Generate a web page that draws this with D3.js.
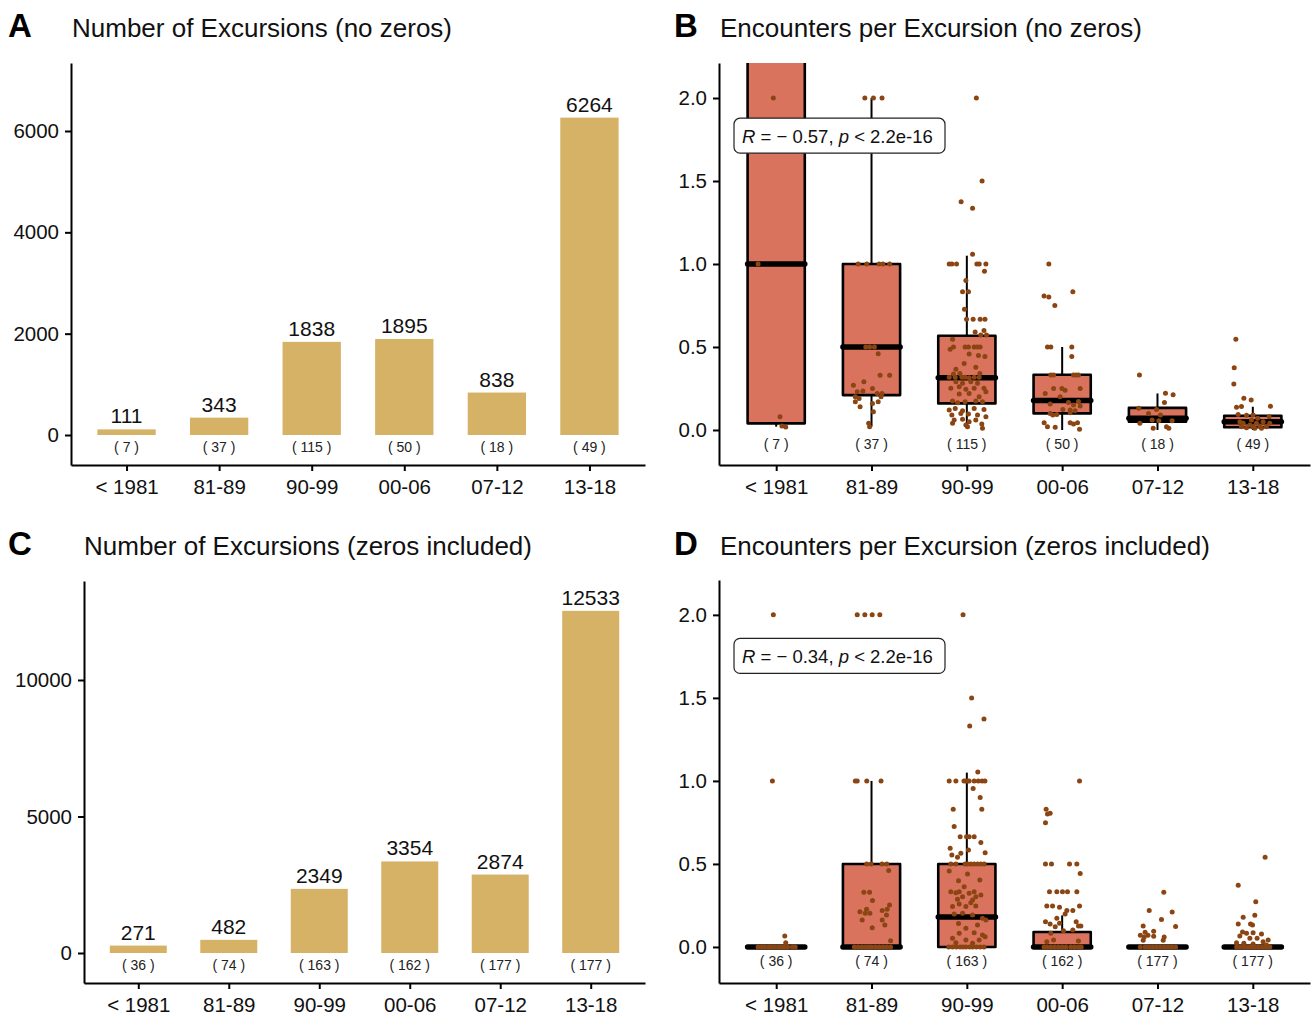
<!DOCTYPE html>
<html>
<head>
<meta charset="utf-8">
<script src="https://cdn.jsdelivr.net/npm/d3@7"></script>
<style>
body { margin: 0; background: #fff; }
text { font-family: "Liberation Sans", Arial, sans-serif; }
</style>
</head>
<body>
<svg id="chart" width="1314" height="1017"></svg>
<script>
var periods = ["< 1981", "81-89", "90-99", "00-06", "07-12", "13-18"];

// panels A and C: excursion totals and (n) per period
var excursionsNoZeros = [111, 343, 1838, 1895, 838, 6264];
var countsNoZeros = [7, 37, 115, 50, 18, 49];
var excursionsWithZeros = [271, 482, 2349, 3354, 2874, 12533];
var countsWithZeros = [36, 74, 163, 162, 177, 177];

var ticksA = [0, 2000, 4000, 6000];
var ticksC = [0, 5000, 10000];
var ticksRate = [0, 0.5, 1, 1.5, 2];

// boxes: [low whisker, q1, median, q3, high whisker]
var boxNoZeros = [
	[0.02, 0.04, 1.0, 2.6, 3.0],
	[0.02, 0.21, 0.5, 1.0, 2.0],
	[0.01, 0.16, 0.315, 0.568, 1.05],
	[0.0, 0.10, 0.177, 0.333, 0.5],
	[0.0, 0.05, 0.07, 0.133, 0.22],
	[0.0, 0.016, 0.05, 0.086, 0.14]
];
var boxWithZeros = [
	[0, 0, 0, 0, 0],
	[0, 0, 0, 0.5, 1.0],
	[0, 0, 0.18, 0.5, 1.05],
	[0, 0, 0, 0.09, 0.19],
	[0, 0, 0, 0, 0],
	[0, 0, 0, 0, 0]
];

// jittered points: [offset in category units, encounters per excursion]
var ptsB1 = [[-0.03, 2], [-0.19, 1], [0.04, 0.08], [0.06, 0.024], [0.1, 0.018]];
var ptsB2 = [[-0.07, 2], [0.02, 2], [0.11, 2], [-0.14, 1], [-0.05, 1], [0.08, 1],
	[0.12, 1], [0.19, 1], [-0.06, 0.5], [-0.02, 0.5], [0.03, 0.5], [0.07, 0.46],
	[0.09, 0.33], [0.19, 0.33], [-0.19, 0.27], [-0.08, 0.29], [-0.15, 0.23],
	[-0.09, 0.235], [0.01, 0.25], [0.06, 0.22], [0.11, 0.22], [-0.17, 0.2],
	[-0.17, 0.17], [-0.12, 0.14], [0.01, 0.16], [0.07, 0.17], [0.02, 0.11],
	[-0.03, 0.04], [-0.02, 0.02], [0.1, 0.2], [-0.13, 0.19]];
var ptsB3 = [[0.1, 2], [0.16, 1.5], [-0.06, 1.375], [0.06, 1.336], [0.06, 1.058],
	[-0.185, 1], [-0.157, 1], [-0.108, 1], [0.105, 1], [0.13, 1], [0.2, 1],
	[0.185, 0.956], [-0.01, 0.9], [-0.045, 0.833], [0.017, 0.833], [-0.025, 0.727],
	[-0.003, 0.667], [0.066, 0.667], [0.14, 0.667], [0.19, 0.667], [0.087, 0.59],
	[0.18, 0.6], [0.146, 0.572], [0.206, 0.572], [-0.15, 0.546], [-0.175, 0.486],
	[-0.14, 0.5], [-0.018, 0.5], [0.017, 0.5], [0.077, 0.5], [0.11, 0.5], [0.14, 0.5],
	[0.024, 0.458], [0.122, 0.448], [0.19, 0.442], [-0.028, 0.401], [-0.115, 0.366],
	[0.094, 0.378], [-0.14, 0.337], [-0.073, 0.341], [0.136, 0.341], [-0.185, 0.317],
	[-0.122, 0.317], [-0.052, 0.317], [-0.018, 0.317], [0.024, 0.315], [0.077, 0.317],
	[0.129, 0.317], [-0.115, 0.291], [-0.045, 0.281], [0.042, 0.291], [0.112, 0.281],
	[-0.168, 0.251], [-0.08, 0.261], [-0.01, 0.245], [0.077, 0.251], [0.18, 0.251],
	[-0.08, 0.217], [0.024, 0.22], [0.129, 0.2], [0.2, 0.23], [-0.15, 0.174],
	[-0.097, 0.164], [-0.018, 0.17], [0.094, 0.174], [0.164, 0.17], [-0.185, 0.12],
	[-0.122, 0.13], [-0.045, 0.116], [0.077, 0.13], [0.18, 0.124], [-0.157, 0.09],
	[-0.063, 0.1], [0.017, 0.096], [0.112, 0.09], [-0.133, 0.06], [-0.045, 0.064],
	[0.024, 0.05], [0.094, 0.06], [0.2, 0.08], [-0.15, 0.04], [-0.01, 0.03],
	[0.157, 0.036], [0.007, 0.02], [0.164, 0.01]];
var ptsB4 = [[-0.14, 1], [-0.19, 0.807], [-0.14, 0.801], [0.112, 0.833], [-0.077, 0.75],
	[-0.154, 0.5], [-0.119, 0.5], [0.101, 0.5], [0.101, 0.442], [-0.119, 0.331],
	[-0.09, 0.331], [0.119, 0.331], [0.147, 0.331], [0.171, 0.331], [-0.178, 0.22],
	[-0.09, 0.25], [-0.003, 0.25], [0.031, 0.24], [0.189, 0.25], [-0.021, 0.2],
	[-0.126, 0.157], [0.066, 0.165], [0.119, 0.151], [0.171, 0.171], [0.007, 0.124],
	[0.084, 0.12], [0.136, 0.116], [0.189, 0.145], [-0.126, 0.1], [-0.098, 0.09],
	[-0.056, 0.094], [0.084, 0.104], [-0.189, 0.044], [-0.154, 0.02], [-0.073, 0.016],
	[0.084, 0.044], [0.119, 0.036], [0.161, 0.044], [0.182, 0.004]];
var ptsB5 = [[-0.189, 0.331], [0.084, 0.221], [0.164, 0.213], [0.073, 0.165],
	[-0.196, 0.131], [-0.094, 0.1], [-0.01, 0.124], [0.031, 0.09], [-0.185, 0.04],
	[-0.056, 0.06], [0.014, 0.056], [0.094, 0.02], [0.119, 0.01], [-0.045, 0.01],
	[0.154, 0.056]];
var ptsB6 = [[-0.178, 0.546], [-0.195, 0.375], [-0.199, 0.277], [-0.094, 0.191],
	[-0.017, 0.181], [-0.171, 0.137], [-0.119, 0.141], [0.185, 0.143], [-0.154, 0.094],
	[-0.066, 0.088], [0.003, 0.09], [0.171, 0.08], [-0.136, 0.05], [-0.101, 0.04],
	[-0.031, 0.03], [0.003, 0.02], [0.038, 0.04], [0.073, 0.024], [0.108, 0.05],
	[0.143, 0.02], [0.178, 0.04], [-0.066, 0.014], [0.021, 0.01], [0.091, 0.01],
	[-0.119, 0.02], [-0.014, 0.06], [0.052, 0.07]];

var ptsD1 = [[-0.03, 2], [-0.04, 1], [0.09, 0.066], [0.1, 0.025]];
var ptsD2 = [[-0.15, 2], [-0.07, 2], [0.007, 2], [0.087, 2], [-0.17, 1], [-0.15, 1],
	[-0.05, 1], [0.1, 1], [-0.05, 0.5], [-0.004, 0.5], [0.11, 0.5], [0.16, 0.5],
	[0.18, 0.46], [-0.08, 0.33], [-0.02, 0.33], [0.01, 0.28], [-0.122, 0.212],
	[-0.052, 0.227], [-0.066, 0.203], [-0.017, 0.203], [-0.098, 0.163], [0.112, 0.219],
	[0.164, 0.227], [0.189, 0.253], [0.14, 0.132], [0.112, 0.163], [0.157, 0.193],
	[0.007, 0.115], [0.2, 0.038]];
var ptsD3 = [[-0.04, 2], [0.05, 1.5], [0.18, 1.373], [0.03, 1.331], [0.115, 1.054],
	[-0.185, 1], [-0.115, 1], [-0.03, 1], [-0.01, 1], [0.007, 1], [0.024, 1], [0.077, 1],
	[0.12, 1], [0.16, 1], [0.19, 1], [0.066, 0.955], [0.14, 0.9], [-0.143, 0.83],
	[0.157, 0.83], [-0.133, 0.725], [-0.07, 0.664], [-0.003, 0.664], [0.024, 0.664],
	[0.077, 0.664], [0.147, 0.629], [-0.175, 0.595], [-0.157, 0.554], [-0.098, 0.54],
	[-0.063, 0.564], [0.017, 0.584], [0.192, 0.568], [-0.168, 0.5], [-0.115, 0.5],
	[-0.017, 0.5], [0.007, 0.5], [0.042, 0.5], [0.077, 0.5], [0.112, 0.5], [0.147, 0.5],
	[0.182, 0.5], [-0.185, 0.458], [0.007, 0.44], [-0.087, 0.399], [0.136, 0.403],
	[-0.168, 0.333], [-0.115, 0.327], [-0.08, 0.333], [-0.028, 0.363], [0.024, 0.323],
	[0.077, 0.333], [0.094, 0.303], [0.147, 0.313], [-0.045, 0.303], [0.06, 0.283],
	[-0.098, 0.287], [-0.15, 0.243], [-0.01, 0.243], [0.094, 0.247], [0.042, 0.267],
	[-0.08, 0.259], [-0.133, 0.199], [-0.045, 0.203], [0.06, 0.193], [0.164, 0.173],
	[-0.087, 0.142], [0.112, 0.132], [0.2, 0.163], [-0.01, 0.112], [-0.08, 0.082],
	[0.077, 0.086], [0.164, 0.072], [-0.15, 0.052], [-0.01, 0.042], [0.129, 0.042],
	[0.192, 0.062], [-0.115, 0.026], [0.06, 0.022]];
var ptsD4 = [[0.182, 1], [-0.168, 0.829], [-0.154, 0.801], [-0.126, 0.805],
	[-0.175, 0.748], [-0.175, 0.5], [-0.112, 0.5], [0.077, 0.5], [0.154, 0.5],
	[0.189, 0.442], [-0.133, 0.333], [-0.056, 0.333], [0.003, 0.333], [0.056, 0.333],
	[0.154, 0.333], [-0.161, 0.247], [-0.101, 0.247], [-0.028, 0.239], [0.182, 0.247],
	[0.049, 0.219], [0.112, 0.219], [0.031, 0.199], [-0.175, 0.152], [-0.126, 0.139],
	[-0.073, 0.122], [-0.028, 0.143], [-0.056, 0.173], [0.147, 0.152], [0.171, 0.127],
	[0.196, 0.127], [0.112, 0.102], [0.014, 0.098], [-0.119, 0.082], [-0.09, 0.042],
	[-0.161, 0.032], [0.171, 0.036]];
var ptsD5 = [[0.066, 0.33], [-0.087, 0.22], [0.154, 0.21], [0.042, 0.165],
	[-0.15, 0.127], [0.19, 0.123], [-0.13, 0.088], [-0.04, 0.095], [-0.18, 0.07],
	[-0.14, 0.06], [-0.1, 0.07], [-0.04, 0.065], [-0.15, 0.04], [0.07, 0.06],
	[0.06, 0.04]];
var ptsD6 = [[0.129, 0.54], [-0.153, 0.371], [0.031, 0.273], [-0.101, 0.179],
	[0.021, 0.191], [-0.024, 0.139], [-0.003, 0.133], [-0.153, 0.139], [-0.136, 0.066],
	[-0.108, 0.09], [-0.066, 0.082], [0.003, 0.086], [0.091, 0.078], [0.161, 0.042],
	[-0.094, 0.022], [-0.031, 0.052], [0.045, 0.052], [0.108, 0.032], [-0.171, 0.026],
	[0.003, 0.018], [0.143, 0.012], [0.056, 0.002]];

// offsets of the points lying exactly on zero (panel D)
var zerosD = [
	[-0.19, -0.15, -0.12, -0.08, -0.05, -0.02, 0.02, 0.05, 0.08, 0.12, 0.17, 0.2],
	[-0.18, -0.14, -0.1, -0.06, -0.03, 0.0, 0.04, 0.08, 0.12, 0.16, 0.2],
	[-0.19, -0.15, -0.11, -0.07, -0.04, -0.01, 0.03, 0.06, 0.1, 0.14, 0.18],
	[-0.19, -0.16, -0.12, -0.08, -0.04, 0.0, 0.04, 0.09, 0.13, 0.17, 0.2],
	[-0.18, -0.13, -0.09, -0.05, -0.01, 0.03, 0.07, 0.11, 0.15, 0.19],
	[-0.17, -0.13, -0.09, -0.05, -0.02, 0.02, 0.06, 0.1, 0.14, 0.18]
];

var barColor = "#d6b266", boxColor = "#da735d", dotColor = "#8b4513";

var svg = d3.select("#chart");

function heading(letter, title, lx, tx, baseline) {
	svg.append("text").attr("x", lx).attr("y", baseline)
		.attr("font-size", 33).attr("font-weight", "bold").text(letter);
	svg.append("text").attr("x", tx).attr("y", baseline)
		.attr("font-size", 26).attr("fill", "#111").text(title);
}

function axes(xRange, yRange, yDomain, ticks, fmt) {
	var x = d3.scalePoint().domain(periods).range(xRange).padding(0.6);
	var y = d3.scaleLinear().domain(yDomain).range(yRange);

	var gx = svg.append("g")
		.attr("transform", "translate(0," + yRange[0] + ")")
		.call(d3.axisBottom(x).tickSize(6).tickSizeOuter(0).tickPadding(8));
	var gy = svg.append("g")
		.attr("transform", "translate(" + xRange[0] + ",0)")
		.call(d3.axisLeft(y).tickValues(ticks).tickFormat(fmt)
			.tickSize(6).tickSizeOuter(0).tickPadding(6));

	[gx, gy].forEach(function (g) {
		g.select(".domain").attr("stroke", "#000").attr("stroke-width", 2);
		g.selectAll(".tick line").attr("stroke", "#000").attr("stroke-width", 2);
		g.selectAll(".tick text").attr("fill", "#111")
			.attr("font-size", 20.5)
			.attr("font-family", "'Liberation Sans', Arial, sans-serif");
	});
	return { x: x, y: y };
}

function barPanel(s, values, counts, nOffset) {
	var w = s.x.step() * 0.63;
	svg.append("g").selectAll("rect").data(values).enter().append("rect")
		.attr("x", function (d, i) { return s.x(periods[i]) - w / 2; })
		.attr("y", function (d) { return s.y(d); })
		.attr("width", w)
		.attr("height", function (d) { return s.y(0) - s.y(d); })
		.attr("fill", barColor);

	svg.append("g").selectAll("text").data(values).enter().append("text")
		.attr("x", function (d, i) { return s.x(periods[i]); })
		.attr("y", function (d) { return s.y(d) - 6; })
		.attr("text-anchor", "middle").attr("font-size", 21).attr("fill", "#111")
		.text(function (d) { return d; });

	countLabels(s, counts, nOffset);
}

function countLabels(s, counts, nOffset) {
	svg.append("g").selectAll("text").data(counts).enter().append("text")
		.attr("x", function (d, i) { return s.x(periods[i]); })
		.attr("y", s.y(0) + nOffset)
		.attr("text-anchor", "middle").attr("font-size", 14)
		.attr("fill", "#222")
		.text(function (d) { return "( " + d + " )"; });
}

var clipCount = 0;
function boxPanel(s, boxes, points, zeros, counts, nOffset, r) {
	var half = s.x.step() * 0.3;
	var id = "clip" + (clipCount++);
	var yr = s.y.range(), xr = s.x.range();
	svg.append("clipPath").attr("id", id).append("rect")
		.attr("x", xr[0]).attr("y", yr[1])
		.attr("width", xr[1] - xr[0]).attr("height", yr[0] - yr[1]);
	var g = svg.append("g").attr("clip-path", "url(#" + id + ")");

	boxes.forEach(function (b, i) {
		var cx = s.x(periods[i]);
		g.append("line").attr("x1", cx).attr("x2", cx)
			.attr("y1", s.y(b[4])).attr("y2", s.y(b[3]))
			.attr("stroke", "#000").attr("stroke-width", 2);
		g.append("line").attr("x1", cx).attr("x2", cx)
			.attr("y1", s.y(b[1])).attr("y2", s.y(b[0]))
			.attr("stroke", "#000").attr("stroke-width", 2);
		g.append("rect").attr("x", cx - half).attr("width", 2 * half)
			.attr("y", s.y(b[3])).attr("height", s.y(b[1]) - s.y(b[3]))
			.attr("fill", boxColor).attr("stroke", "#000")
			.attr("stroke-width", 2.6).attr("stroke-linejoin", "round");
		g.append("line").attr("x1", cx - half).attr("x2", cx + half)
			.attr("y1", s.y(b[2])).attr("y2", s.y(b[2]))
			.attr("stroke", "#000").attr("stroke-width", 5.5)
			.attr("stroke-linecap", "round");
	});

	points.forEach(function (pts, i) {
		var cx = s.x(periods[i]);
		var all = pts.slice();
		if (zeros) {
			zeros[i].forEach(function (o) { all.push([o, 0]); });
		}
		g.append("g").selectAll("circle").data(all).enter().append("circle")
			.attr("cx", function (d) { return cx + d[0] * s.x.step(); })
			.attr("cy", function (d) { return s.y(d[1]); })
			.attr("r", 2.5)
			.attr("fill", dotColor);
	});

	countLabels(s, counts, nOffset);

	// correlation label
	var lx = xr[0] + 15, ly = s.y(r.at);
	svg.append("rect").attr("x", lx).attr("y", ly - 18)
		.attr("width", 211).attr("height", 35).attr("rx", 6)
		.attr("fill", "#fff").attr("stroke", "#222").attr("stroke-width", 1.2);
	var t = svg.append("text").attr("x", lx + 8).attr("y", ly + 6.5)
		.attr("font-size", 18.5).attr("fill", "#111");
	t.append("tspan").attr("font-style", "italic").text("R");
	t.append("tspan").text(" = \u2212 " + r.value + ", ");
	t.append("tspan").attr("font-style", "italic").text("p");
	t.append("tspan").text(" < 2.2e-16");
}

// A
heading("A", "Number of Excursions (no zeros)", 8, 72, 37);
var sA = axes([71, 645], [465, 63], [-592, 7342], ticksA, d3.format("d"));
barPanel(sA, excursionsNoZeros, countsNoZeros, 17);

// B
heading("B", "Encounters per Excursion (no zeros)", 674, 720, 37);
var sB = axes([719, 1310], [465, 63], [-0.211, 2.211], ticksRate, d3.format(".1f"));
boxPanel(sB, boxNoZeros, [ptsB1, ptsB2, ptsB3, ptsB4, ptsB5, ptsB6], null,
	countsNoZeros, 19, { at: 1.77, value: "0.57" });

// C
heading("C", "Number of Excursions (zeros included)", 8, 84, 555);
var sC = axes([84, 645], [983, 581], [-1099, 13626], ticksC, d3.format("d"));
barPanel(sC, excursionsWithZeros, countsWithZeros, 17);

// D
heading("D", "Encounters per Excursion (zeros included)", 674, 720, 555);
var sD = axes([719, 1310], [983, 580], [-0.217, 2.21], ticksRate, d3.format(".1f"));
boxPanel(sD, boxWithZeros, [ptsD1, ptsD2, ptsD3, ptsD4, ptsD5, ptsD6], zerosD,
	countsWithZeros, 19, { at: 1.75, value: "0.34" });
</script>
</body>
</html>
